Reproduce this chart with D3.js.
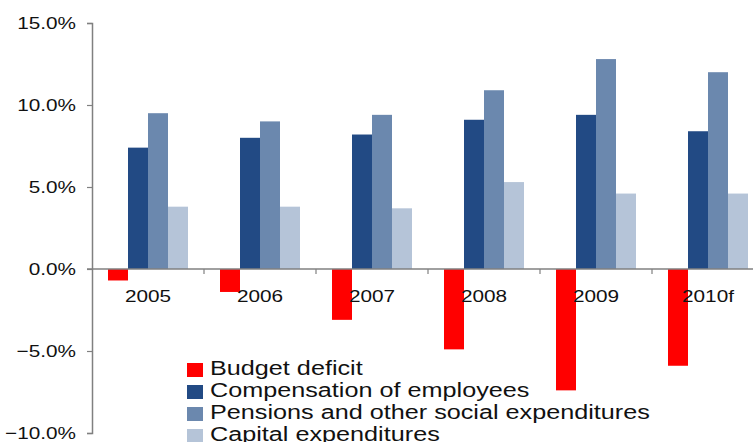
<!DOCTYPE html>
<html>
<head>
<meta charset="utf-8">
<script src="https://cdn.jsdelivr.net/npm/d3@7/dist/d3.min.js"></script>
<style>
  html, body { margin: 0; padding: 0; background: #fff; }
  svg { display: block; }
  text { font-family: "Liberation Sans", Arial, Helvetica, sans-serif; fill: #111; }
</style>
</head>
<body>
<svg id="chart" width="753" height="442"></svg>
<script>
// Government finances, share of GDP
const years = ["2005", "2006", "2007", "2008", "2009", "2010f"];
const seriesNames = [
  "Budget deficit",
  "Compensation of employees",
  "Pensions and other social expenditures",
  "Capital expenditures"
];
const budgetDeficit = [-0.7, -1.4, -3.1, -4.9, -7.4, -5.9];
const compensation = [7.4, 8.0, 8.2, 9.1, 9.4, 8.4];
const pensions = [9.5, 9.0, 9.4, 10.9, 12.8, 12.0];
const capital = [3.8, 3.8, 3.7, 5.3, 4.6, 4.6];
const seriesColors = ["#ff0000", "#224a84", "#6b88ae", "#b5c4d8"];
const yTicks = [-10, -5, 0, 5, 10, 15];

const seriesValues = [budgetDeficit, compensation, pensions, capital];

const svg = d3.select("#chart");

const y = d3.scaleLinear().domain([-10, 15]).range([433, 23]);
const x = d3.scaleBand().domain(years).range([92, 764]).paddingInner(0).paddingOuter(0);
const xs = d3.scaleBand().domain(seriesNames).range([0, x.bandwidth()])
  .paddingInner(0).paddingOuter(0.8);

// Bars
const groups = svg.append("g").selectAll("g")
  .data(years)
  .join("g")
  .attr("transform", d => `translate(${x(d)},0)`);

groups.selectAll("rect")
  .data((d, i) => seriesNames.map((s, k) => ({ s, v: seriesValues[k][i], c: seriesColors[k] })))
  .join("rect")
  .attr("x", d => xs(d.s))
  .attr("width", xs.bandwidth())
  .attr("y", d => y(Math.max(0, d.v)))
  .attr("height", d => Math.abs(y(d.v) - y(0)))
  .attr("fill", d => d.c);

// Y axis
const yAxis = svg.append("g")
  .attr("transform", `translate(${x.range()[0]},0)`)
  .call(d3.axisLeft(y).tickValues(yTicks).tickSize(5).tickPadding(11)
    .tickFormat(d => d3.format(".1f")(d) + "%"));
yAxis.select(".domain").attr("stroke", "#808080").attr("stroke-width", 1.5);
yAxis.selectAll(".tick line").attr("stroke", "#808080").attr("stroke-width", 1.2);
yAxis.selectAll(".tick text")
  .attr("class", "axis-label")
  .style("font-size", "17px")
  .attr("fill", "#111");

// Zero line with category separators
const xAxis = svg.append("g");
xAxis.append("line")
  .attr("x1", x.range()[0] - 5).attr("x2", x.range()[1])
  .attr("y1", y(0)).attr("y2", y(0))
  .attr("stroke", "#808080").attr("stroke-width", 1.5);
xAxis.selectAll("line.sep")
  .data(years.slice(1))
  .join("line")
  .attr("class", "sep")
  .attr("x1", d => x(d)).attr("x2", d => x(d))
  .attr("y1", y(0)).attr("y2", y(0) + 5)
  .attr("stroke", "#808080").attr("stroke-width", 1.2);
xAxis.selectAll("text")
  .data(years)
  .join("text")
  .attr("class", "axis-label")
  .attr("x", d => x(d) + x.bandwidth() / 2)
  .attr("y", y(0) + 33)
  .attr("text-anchor", "middle")
  .style("font-size", "17px")
  .text(d => d);

// Legend
const legend = svg.append("g").attr("transform", "translate(187,363)");
const rows = legend.selectAll("g")
  .data(seriesNames)
  .join("g")
  .attr("transform", (d, i) => `translate(0,${i * 22})`);
rows.append("rect")
  .attr("width", 16).attr("height", 14)
  .attr("fill", (d, i) => seriesColors[i]);
rows.append("text")
  .attr("class", "legend-label")
  .attr("x", 23).attr("y", 12)
  .style("font-size", "20px")
  .text(d => d);

// Widen the glyphs horizontally
function stretch(sel, k) {
  sel.each(function () {
    const w = this.getComputedTextLength();
    d3.select(this).attr("textLength", w * k).attr("lengthAdjust", "spacingAndGlyphs");
  });
}
stretch(svg.selectAll("text.axis-label"), 1.22);
stretch(svg.selectAll("text.legend-label"), 1.26);
</script>
</body>
</html>
